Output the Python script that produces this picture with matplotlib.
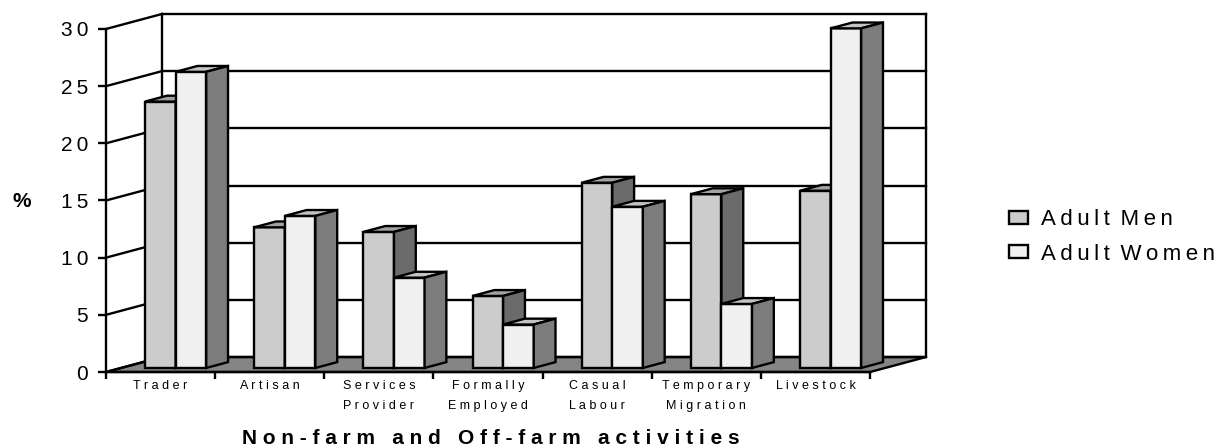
import matplotlib
matplotlib.use("Agg")
import matplotlib.pyplot as plt
from matplotlib.patches import Polygon, Patch

plt.rcParams["font.family"] = ["Liberation Sans", "DejaVu Sans"]

categories = ["Trader", "Artisan", "Services\nProvider", "Formally\nEmployed",
              "Casual\nLabour", "Temporary\nMigration", "Livestock"]
adult_men = [23.3, 12.3, 11.9, 6.3, 16.2, 15.2, 15.5]
adult_women = [25.9, 13.3, 7.9, 3.8, 14.1, 5.6, 29.7]
series_names = ["Adult Men", "Adult Women"]
y_ticks = [0, 5, 10, 15, 20, 25, 30]
x_title = "Non-farm and Off-farm activities"
y_title = "%"

# oblique projection: depth z in [0, 1] shifts right and up
OX, OY = 0.512, 1.31
Z0, DZ = 0.27, 0.39      # bar slab depth
BAR_W = 0.28
LW = 1.7

colors = {
    "Adult Men": ("#cccccc", "#a2a2a2", "#6b6b6b"),
    "Adult Women": ("#f0f0f0", "#c4c4c4", "#7c7c7c"),
}


def spaced(text, gap=" ", word_gap=" "):
    # wide letter spacing, line by line
    lines = []
    for line in text.split("\n"):
        lines.append(word_gap.join(gap.join(w) for w in line.split(" ")))
    return "\n".join(lines)


def proj(x, v, z):
    return (x + z * OX, v + z * OY)


def draw_bar(ax, x0, h, face, top, side):
    z0, z1 = Z0, Z0 + DZ
    x1 = x0 + BAR_W
    front = [proj(x0, 0, z0), proj(x1, 0, z0), proj(x1, h, z0), proj(x0, h, z0)]
    cap = [proj(x0, h, z0), proj(x1, h, z0), proj(x1, h, z1), proj(x0, h, z1)]
    right = [proj(x1, 0, z0), proj(x1, 0, z1), proj(x1, h, z1), proj(x1, h, z0)]
    for pts, fc in [(front, face), (cap, top), (right, side)]:
        ax.add_patch(Polygon(pts, closed=True, facecolor=fc, edgecolor="black",
                             lw=LW, joinstyle="miter", clip_on=False, zorder=3))


n = len(categories)
vmax = y_ticks[-1]

fig = plt.figure(figsize=(12.3, 4.46), dpi=100)
ax = fig.add_axes([106 / 1230, 74 / 446, 820 / 1230, 358 / 446])
ax.set_xlim(0, n + OX)
ax.set_ylim(0, vmax + OY)
ax.patch.set_visible(False)

# floor
floor = [proj(0, 0, 0), proj(n, 0, 0), proj(n, 0, 1), proj(0, 0, 1)]
ax.add_patch(Polygon(floor, closed=True, facecolor="#858585", edgecolor="black",
                     lw=LW, clip_on=False, zorder=1))

# back wall frame and gridlines, plus the side-wall diagonals
kw = dict(color="black", lw=LW, clip_on=False, zorder=2, solid_capstyle="projecting")
ax.plot([OX, OX], [OY, vmax + OY], **kw)
ax.plot([n + OX, n + OX], [OY, vmax + OY], **kw)
for v in y_ticks:
    ax.plot([OX, n + OX], [v + OY, v + OY], **kw)
    ax.plot([0, OX], [v, v + OY], **kw)

# bars, back to front within each category
offset = (1 - 2 * BAR_W) / 2
for i in range(n):
    x0 = i + offset
    for j, (name, vals) in enumerate(zip(series_names, [adult_men, adult_women])):
        face, top, side = colors[name]
        draw_bar(ax, x0 + j * BAR_W, vals[i], face, top, side)

# front axes
for s in ["top", "right"]:
    ax.spines[s].set_visible(False)
for s in ["left", "bottom"]:
    ax.spines[s].set_linewidth(LW)
    ax.spines[s].set_zorder(4)
ax.spines["left"].set_bounds(0, vmax)
ax.spines["bottom"].set_bounds(0, n)

ax.set_yticks(y_ticks)
ax.set_yticklabels([spaced(str(t), "\u2009") for t in y_ticks], fontsize=15)
ax.tick_params(axis="y", length=5.8, width=LW, pad=7)

ax.set_xticks(range(n + 1))
ax.set_xticklabels([])
ax.tick_params(axis="x", which="major", length=5, width=LW)
ax.set_xticks([i + 0.5 for i in range(n)], minor=True)
ax.set_xticklabels([spaced(c) for c in categories], minor=True, fontsize=9,
                   linespacing=1.8)
ax.tick_params(axis="x", which="minor", length=0, pad=6)

fig.text(22 / 1230, 1 - 201 / 446, y_title, fontsize=15, fontweight="bold",
         ha="center", va="center")
fig.text(491 / 1230, 1 - 438 / 446, spaced(x_title, " ", "   "), fontsize=15,
         fontweight="bold", ha="center", va="center")

handles = [Patch(facecolor=colors[nm][0], edgecolor="black", lw=LW) for nm in series_names]
fig.legend(handles, [spaced(nm, "\u2009", "\u2009 ") for nm in series_names],
           loc="center left", bbox_to_anchor=(1009 / 1230, 1 - 237 / 446),
           frameon=False, fontsize=16, handlelength=0.86, handleheight=0.5,
           handletextpad=0.6, labelspacing=0.6, borderpad=0, borderaxespad=0)

fig.savefig("out.png", dpi=100)
